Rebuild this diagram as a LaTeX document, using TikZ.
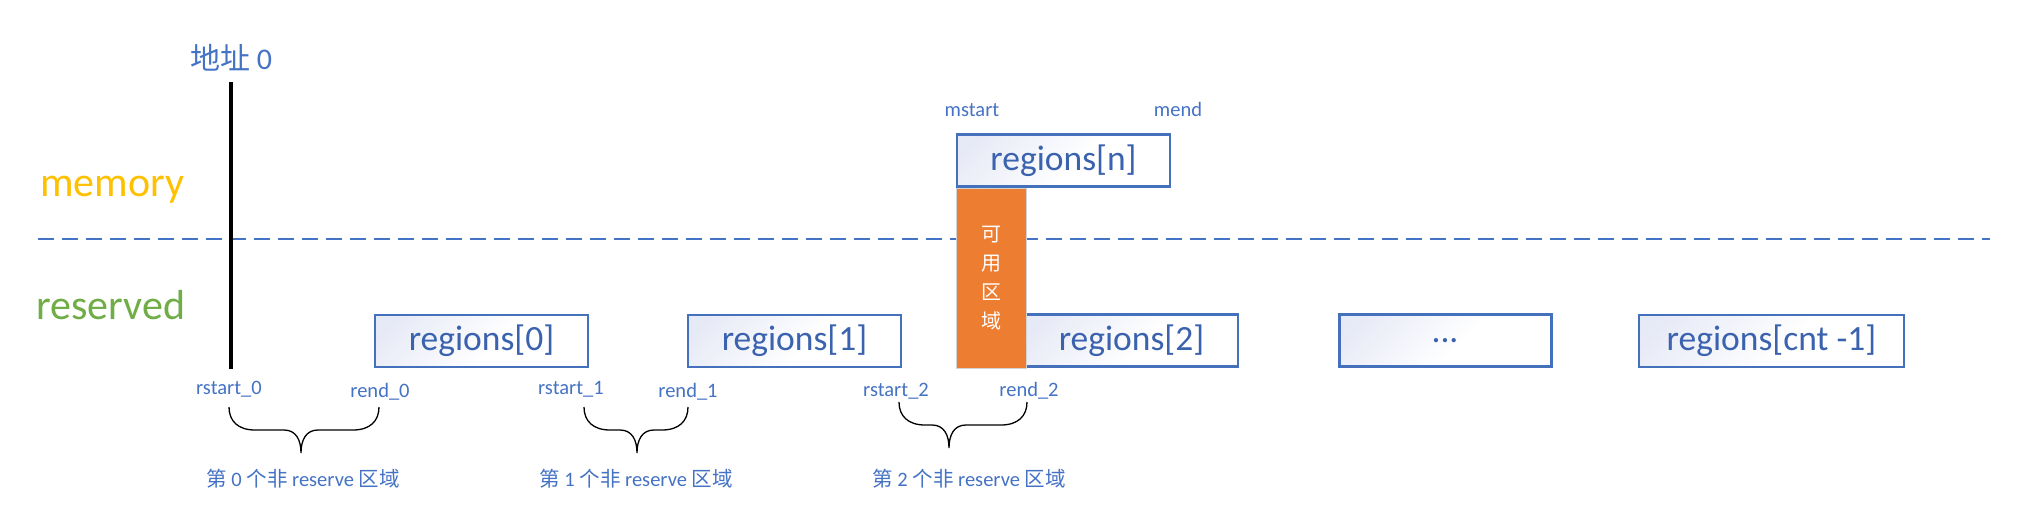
\documentclass[tikz,border=0pt]{standalone}
\usepackage{fontspec}
\setmainfont{Carlito}
\newfontfamily\cjk{Noto Sans CJK SC}
\definecolor{lblue}{HTML}{4472C4}
\definecolor{boxtext}{HTML}{3A62AE}
\definecolor{boxline}{HTML}{4570BC}
\definecolor{gradA}{HTML}{E6E9F6}
\definecolor{orangefill}{HTML}{ED7D31}
\definecolor{memcol}{HTML}{FFC000}
\definecolor{rescol}{HTML}{70AD47}
\pgfdeclarehorizontalshading{boxshade}{100bp}{color(0bp)=(gradA); color(20bp)=(gradA); color(55bp)=(white); color(100bp)=(white)}
\newcommand{\mybrace}[4]{% xL, xTip, xR, yTop
  \draw[bracestyle] (#1,#4) .. controls (#1,#4+14) and (#1+9,#4+23) .. (#1+26,#4+23)
    -- (#2-17,#4+23) .. controls (#2-5,#4+23) and (#2,#4+33) .. (#2,#4+46)
    .. controls (#2,#4+33) and (#2+5,#4+23) .. (#2+17,#4+23)
    -- (#3-26,#4+23) .. controls (#3-9,#4+23) and (#3,#4+14) .. (#3,#4);}
\tikzset{
  regbox/.style={draw=boxline, line width=2.6pt, shading=boxshade, shading angle=-45,
    minimum width=213pt, minimum height=52pt, inner sep=0pt, text=boxtext,
    font=\fontsize{35.5}{40}\selectfont},
  small/.style={text=lblue, font=\fontsize{20.5}{24}\selectfont, inner sep=0pt, anchor=base},
  bracestyle/.style={draw=black, line width=1.3pt},
  bracelabel/.style={text=lblue, font=\fontsize{20.5}{24}\selectfont, inner sep=0pt, anchor=base},
}
\begin{document}
\begin{tikzpicture}[x=1pt,y=-1pt]
\useasboundingbox (0,0) rectangle (2042,526);
% dashed separator
\coordinate (dl) at (38,239);
\coordinate (dr) at (1990,239);
\draw[lblue, line width=1.3pt, dash pattern=on 16pt off 8pt] (dl) -- (dr);
% side labels
\node[text=memcol, font=\fontsize{42}{48}\selectfont, inner sep=0pt, anchor=base west] (mem) at (40,197) {memory};
\node[text=rescol, font=\fontsize{42}{48}\selectfont, inner sep=0pt, anchor=base west] (res) at (36,320) {reserved};
% address 0
\node[text=lblue, font=\fontsize{30}{36}\selectfont, inner sep=0pt, anchor=base] (addr) at (231,70) {{\cjk 地址} 0};
\coordinate (vtop) at (231,82);
\coordinate (vbot) at (231,369);
\draw[black, line width=4pt] (vtop) -- (vbot);
% boxes
\node[regbox] (r0) at (481.5,341) {regions[0]};
\node[regbox] (r1) at (794.5,341) {regions[1]};
\node[regbox] (r2) at (1131.5,340.5) {regions[2]};
\node[regbox, minimum width=212pt, line width=3pt] (rd) at (1445,341) {...};
\node[regbox, minimum width=265pt] (rc) at (1771.5,341) {regions[cnt -1]};
\node[regbox] (rn) at (1063.5,160.5) {regions[n]};
% usable area
\node[draw=gray!35, line width=0.8pt, fill=orangefill, minimum width=70pt, minimum height=180pt,
  inner sep=0pt, text=white, align=center, font=\cjk\fontsize{20}{29}\selectfont] (avail) at (991,278) {可\\用\\区\\域};
% top labels
\node[small] (mstart) at (972,117) {mstart};
\node[small] (mend) at (1178,117) {mend};
% bottom labels
\node[small] (rs0) at (229,395) {rstart\_0};
\node[small] (re0) at (380,397) {rend\_0};
\node[small] (rs1) at (571,395) {rstart\_1};
\node[small] (re1) at (688,397) {rend\_1};
\node[small] (rs2) at (896,396) {rstart\_2};
\node[small] (re2) at (1029,396) {rend\_2};
% braces
\mybrace{229}{301}{379}{407}
\mybrace{584}{637}{688}{407}
\mybrace{899}{949}{1027}{402}
% brace labels
\node[bracelabel] (b0) at (303,486) {{\cjk 第} 0 {\cjk 个非} reserve {\cjk 区域}};
\node[bracelabel] (b1) at (636,486) {{\cjk 第} 1 {\cjk 个非} reserve {\cjk 区域}};
\node[bracelabel] (b2) at (969,486) {{\cjk 第} 2 {\cjk 个非} reserve {\cjk 区域}};
\end{tikzpicture}
\end{document}
